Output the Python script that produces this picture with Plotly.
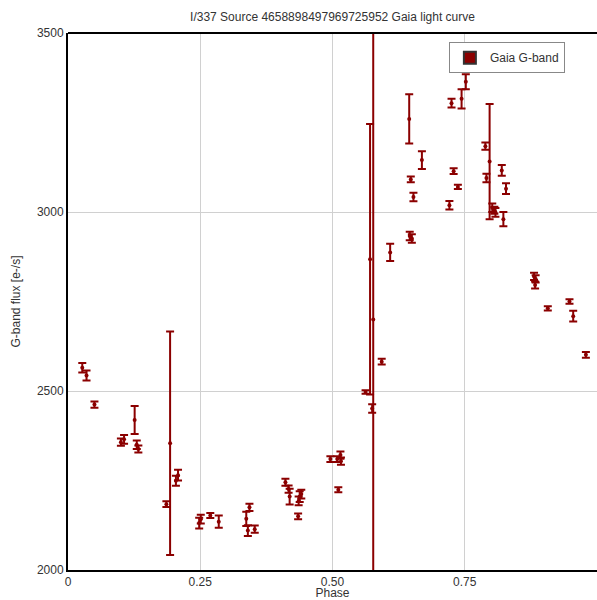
import plotly.graph_objects as go

phase = [0.027, 0.035, 0.050, 0.100, 0.106, 0.126, 0.130, 0.133, 0.186, 0.193,
         0.204, 0.208, 0.248, 0.251, 0.269, 0.285, 0.337, 0.340, 0.343, 0.353,
         0.411, 0.417, 0.419, 0.435, 0.436, 0.438, 0.441, 0.496, 0.509, 0.511,
         0.515, 0.516, 0.5625, 0.571, 0.575, 0.577, 0.593, 0.609, 0.645, 0.646,
         0.648, 0.650, 0.653, 0.669, 0.721, 0.725, 0.729, 0.737, 0.744, 0.752,
         0.789, 0.791, 0.797, 0.802, 0.806, 0.808, 0.820, 0.823, 0.828, 0.881,
         0.883, 0.884, 0.907, 0.948, 0.955, 0.979]
flux = [2565, 2543, 2462, 2357, 2365, 2419, 2350, 2338, 2184, 2354,
        2249, 2265, 2131, 2142, 2152, 2135, 2143, 2110, 2175, 2114,
        2245, 2226, 2205, 2150, 2193, 2205, 2212, 2310, 2310, 2224,
        2321, 2304, 2497, 2868, 2451, 2700, 2582, 2887, 3260, 2933,
        3091, 2926, 3042, 3145, 3019, 3304, 3114, 3070, 3316, 3364,
        3184, 3095, 3141, 3012, 3005, 2999, 3116, 2980, 3065, 2820,
        2796, 2813, 2731, 2750, 2709, 2601]
flux_err = [13, 14, 9, 10, 12, 39, 12, 10, 8, 312,
            14, 15, 15, 12, 7, 17, 20, 15, 10, 10,
            10, 10, 22, 8, 12, 15, 12, 8, 8, 7,
            10, 10, 5, 378, 12, 1000, 8, 24, 69, 12,
            8, 12, 12, 25, 12, 12, 8, 6, 27, 21,
            10, 12, 161, 12, 10, 12, 15, 20, 15, 10,
            10, 10, 6, 6, 15, 8]

x_ticks = [0, 0.25, 0.5, 0.75, 1]
x_tick_labels = ["0", "0.25", "0.50", "0.75", "1"]
y_ticks = [2000, 2500, 3000, 3500]

red = "#8b0000"

fig = go.Figure()
fig.add_trace(go.Scatter(
    x=phase, y=flux, mode="markers", name="Gaia G-band", showlegend=False,
    marker=dict(color=red, size=4),
    error_y=dict(type="data", array=flux_err, color=red, thickness=2, width=4),
))
fig.add_trace(go.Scatter(
    x=[None], y=[None], mode="markers", name="Gaia G-band",
    marker=dict(color=red, size=14, symbol="square", line=dict(color="#333", width=1)),
))

fig.update_layout(
    width=597, height=600,
    margin=dict(l=68, r=0, t=33, b=28),
    paper_bgcolor="white", plot_bgcolor="white",
    font=dict(family="Liberation Sans, Arial, sans-serif", size=12, color="#333"),
    title=dict(text="I/337 Source 4658898497969725952 Gaia light curve",
               x=0.5, xref="paper", y=0.972, yref="container", xanchor="center",
               yanchor="middle", font=dict(size=12, color="#333")),
    showlegend=True,
    legend=dict(x=0.72, y=0.983, xanchor="left", yanchor="top",
                bgcolor="white", bordercolor="#888", borderwidth=1,
                font=dict(size=12, color="#333"), itemsizing="constant",
                itemwidth=30),
    shapes=[dict(type="line", xref="paper", yref="paper", x0=0, x1=1.01, y0=1, y1=1,
                 line=dict(color="black", width=2), layer="above")],
)
fig.update_xaxes(
    range=[0, 1], tickvals=x_ticks, ticktext=x_tick_labels,
    showgrid=True, gridcolor="#d0d0d0", gridwidth=1,
    showline=True, linecolor="black", linewidth=2, mirror=False,
    ticks="", zeroline=False,
    title=dict(text="Phase", standoff=2, font=dict(size=12, color="#333")),
)
fig.update_yaxes(
    range=[2000, 3500], tickvals=y_ticks,
    showgrid=True, gridcolor="#d0d0d0", gridwidth=1,
    showline=True, linecolor="black", linewidth=2, mirror=False,
    ticks="", zeroline=False,
    title=dict(text="G-band flux [e-/s]", standoff=14, font=dict(size=12, color="#333")),
)

fig.write_html("out.html")
